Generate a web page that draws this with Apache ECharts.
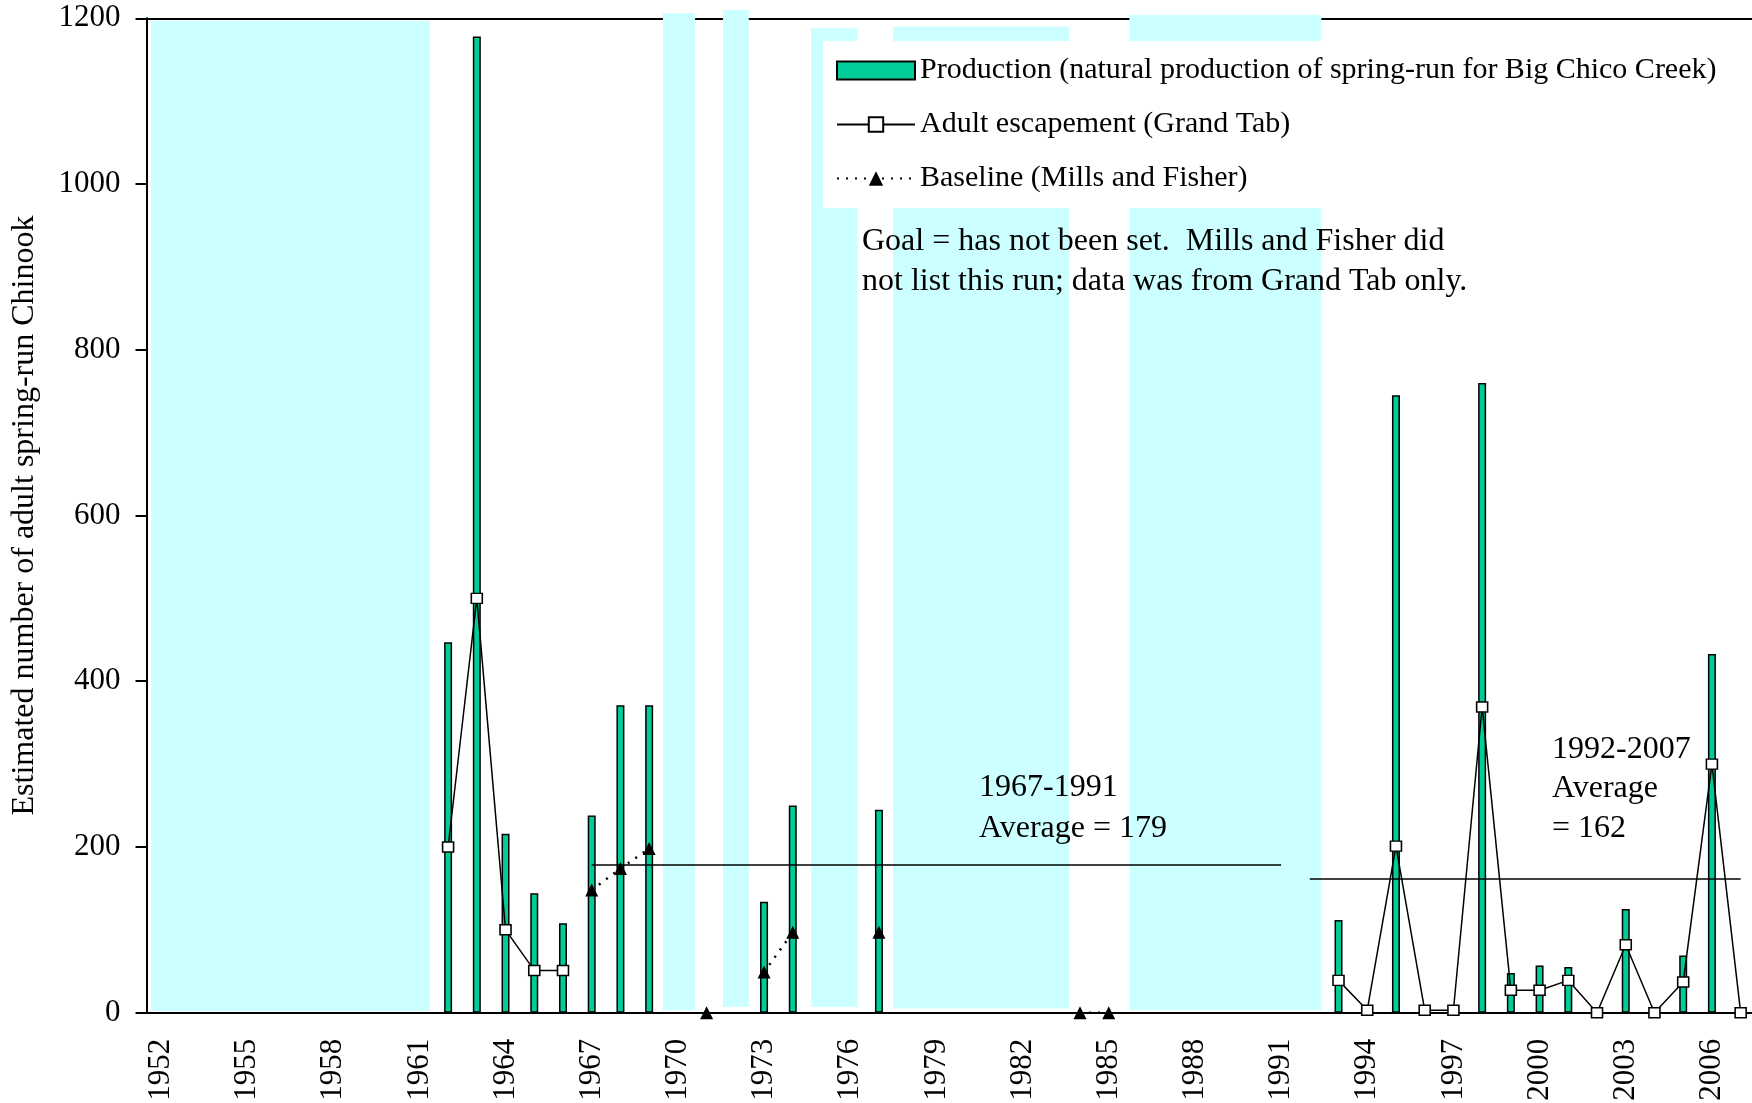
<!DOCTYPE html>
<html>
<head>
<meta charset="utf-8">
<title>Big Chico Creek spring-run Chinook</title>
<script src="https://cdn.jsdelivr.net/npm/echarts@6/dist/echarts.min.js"></script>
<style>
  html, body { margin: 0; padding: 0; background: #fff; }
  #chart { width: 1752px; height: 1103px; }
</style>
</head>
<body>
<div id="chart"></div>
<script>
var SERIF = '"Liberation Serif", "Times New Roman", serif'

var years = ['1952', '1953', '1954', '1955', '1956', '1957', '1958', '1959', '1960', '1961',
  '1962', '1963', '1964', '1965', '1966', '1967', '1968', '1969', '1970', '1971',
  '1972', '1973', '1974', '1975', '1976', '1977', '1978', '1979', '1980', '1981',
  '1982', '1983', '1984', '1985', '1986', '1987', '1988', '1989', '1990', '1991',
  '1992', '1993', '1994', '1995', '1996', '1997', '1998', '1999', '2000', '2001',
  '2002', '2003', '2004', '2005', '2006', '2007']

// natural production (bars)
var prodYears = ['1962', '1963', '1964', '1965', '1966', '1967', '1968', '1969', '1973', '1974',
  '1977', '1993', '1995', '1998', '1999', '2000', '2001', '2003', '2005', '2006']
var prodValues = [447, 1178, 216, 144, 108, 238, 371, 371, 134, 250,
  245, 112, 745, 760, 48, 57, 55, 125, 69, 433]

// adult escapement, Grand Tab (squares)
var escYears = ['1962', '1963', '1964', '1965', '1966', '1993', '1994', '1995', '1996', '1997',
  '1998', '1999', '2000', '2001', '2002', '2003', '2004', '2005', '2006', '2007']
var escValues = [200, 500, 100, 51, 51, 39, 3, 201, 3, 3,
  369, 27, 27, 39, 0, 82, 0, 37, 300, 0]

// baseline, Mills and Fisher (triangles)
var baseYears = ['1967', '1968', '1969', '1971', '1973', '1974', '1977', '1984', '1985']
var baseValues = [148, 174, 198, 0, 49, 97, 97, 0, 0]

// period averages
var avgFrom = ['1967', '1992']
var avgTo = ['1991', '2007']
var avgValues = [179, 162]

// shaded year spans
var bandStart = [1951.66, 1969.48, 1971.57, 1974.64, 1977.49, 1985.72]
var bandEnd = [1961.37, 1970.6, 1972.47, 1976.26, 1983.62, 1992.4]
var bandTop = [1197, 1206, 1210, 1188, 1190, 1204]
var bandBottom = [2, 3, 7, 7, 5, 3]

var yMin = 0
var yMax = 1200
var yStep = 200

function fillYears (yrs, vals) {
  return years.map(function (y) {
    var i = yrs.indexOf(y)
    return i >= 0 ? vals[i] : null
  })
}

var bandData = bandStart.map(function (s, i) {
  return [s, bandEnd[i], bandTop[i], bandBottom[i]]
})

var avgLines = avgValues.map(function (v, i) {
  return [{ coord: [avgFrom[i], v] }, { coord: [avgTo[i], v] }]
})

var chart = echarts.init(document.getElementById('chart'))

function txt (x, y, s) {
  return {
    type: 'text',
    x: x,
    y: y,
    z: 10,
    style: { text: s, fontFamily: SERIF, fontSize: 32, fill: '#000', verticalAlign: 'middle' }
  }
}

chart.setOption({
  animation: false,
  backgroundColor: '#fff',
  grid: {
    left: 146.5,
    right: -3,
    top: 18.3,
    bottom: 90.3,
    containLabel: false,
    outerBoundsMode: 'none'
  },
  legend: {
    data: [
      { name: 'Production (natural production of spring-run for Big Chico Creek)', icon: 'rect' },
      { name: 'Adult escapement (Grand Tab)' },
      { name: 'Baseline (Mills and Fisher)' }
    ],
    orient: 'vertical',
    left: 823,
    top: 41,
    padding: [14, 40, 14, 13],
    itemGap: 23,
    itemWidth: 78,
    itemHeight: 18,
    backgroundColor: '#fff',
    selectedMode: false,
    textStyle: { fontFamily: SERIF, fontSize: 30, color: '#000', lineHeight: 31 }
  },
  xAxis: [
    {
      type: 'category',
      data: years,
      boundaryGap: true,
      axisLine: { lineStyle: { color: '#000', width: 2 } },
      axisTick: { interval: 0, length: 10, lineStyle: { color: '#000', width: 2 } },
      axisLabel: {
        interval: 2,
        rotate: 90,
        margin: 26,
        fontFamily: SERIF,
        fontSize: 31,
        color: '#000'
      },
      splitLine: { show: false }
    },
    {
      // hidden year scale for the shaded spans; its line is the top border
      type: 'value',
      position: 'top',
      min: 1951.5,
      max: 2007.5,
      axisLine: { show: true, onZero: false, lineStyle: { color: '#000', width: 2 } },
      axisTick: { show: false },
      axisLabel: { show: false },
      splitLine: { show: false }
    }
  ],
  yAxis: {
    type: 'value',
    min: yMin,
    max: yMax,
    interval: yStep,
    name: 'Estimated number of adult spring-run Chinook',
    nameLocation: 'middle',
    nameRotate: 90,
    nameGap: 106,
    nameMoveOverlap: false,
    nameTextStyle: { fontFamily: SERIF, fontSize: 32, color: '#000' },
    axisLine: { show: true, lineStyle: { color: '#000', width: 2 } },
    axisTick: { show: true, length: 11, lineStyle: { color: '#000', width: 2 } },
    axisLabel: {
      margin: 26,
      fontFamily: SERIF,
      fontSize: 31,
      color: '#000',
      formatter: function (v) { return String(v) }
    },
    splitLine: { show: false }
  },
  series: [
    {
      name: 'bands',
      type: 'custom',
      xAxisIndex: 1,
      yAxisIndex: 0,
      z: 1,
      silent: true,
      clip: false,
      encode: { x: [0, 1], y: [2, 3] },
      data: bandData,
      renderItem: function (params, api) {
        var p0 = api.coord([api.value(0), api.value(2)])
        var p1 = api.coord([api.value(1), api.value(3)])
        return {
          type: 'rect',
          shape: { x: p0[0], y: p0[1], width: p1[0] - p0[0], height: p1[1] - p0[1] },
          style: { fill: '#CCFFFF' }
        }
      }
    },
    {
      name: 'Production (natural production of spring-run for Big Chico Creek)',
      type: 'bar',
      z: 2,
      barWidth: 8,
      itemStyle: { color: '#00CC99', borderColor: '#000', borderWidth: 1.5 },
      data: fillYears(prodYears, prodValues),
      markLine: {
        silent: true,
        symbol: ['none', 'none'],
        label: { show: false },
        lineStyle: { color: '#000', width: 1.5, type: 'solid' },
        data: avgLines
      }
    },
    {
      name: 'Adult escapement (Grand Tab)',
      type: 'line',
      z: 3,
      connectNulls: false,
      showAllSymbol: true,
      symbol: 'rect',
      symbolSize: [11, 10],
      itemStyle: { color: '#fff', borderColor: '#000', borderWidth: 1.5 },
      lineStyle: { color: '#000', width: 1.5 },
      data: fillYears(escYears, escValues)
    },
    {
      name: 'Baseline (Mills and Fisher)',
      type: 'line',
      z: 3,
      connectNulls: false,
      showAllSymbol: true,
      symbol: 'triangle',
      symbolSize: 13,
      itemStyle: { color: '#000' },
      lineStyle: { color: '#000', width: 2.5, type: [2, 7] },
      data: fillYears(baseYears, baseValues)
    }
  ],
  graphic: [
    txt(862, 242, 'Goal = has not been set.  Mills and Fisher did'),
    txt(862, 282, 'not list this run; data was from Grand Tab only.'),
    txt(979, 788, '1967-1991'),
    txt(979, 829, 'Average = 179'),
    txt(1552, 750, '1992-2007'),
    txt(1552, 789, 'Average'),
    txt(1552, 829, '= 162')
  ]
})
</script>
</body>
</html>
